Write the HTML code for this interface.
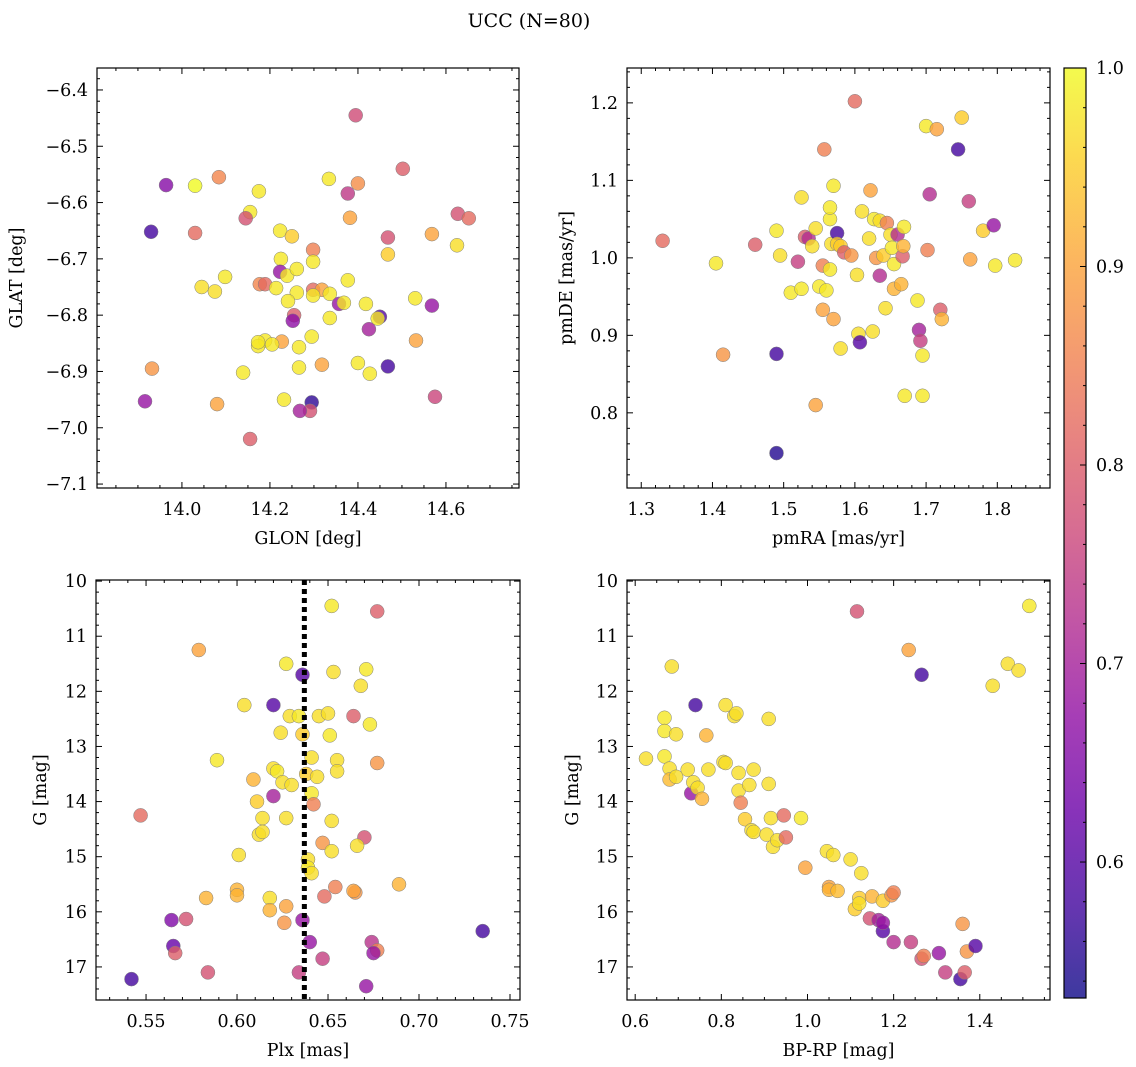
<!DOCTYPE html>
<html><head><meta charset="utf-8"><style>
html,body{margin:0;padding:0;background:#fff;}
svg{display:block;font-family:"DejaVu Serif","Liberation Serif",serif;}
</style></head><body>
<svg id="fig" width="1136" height="1067" viewBox="0 0 1136 1067" xmlns="http://www.w3.org/2000/svg">
<text x="529" y="27" font-size="19" text-anchor="middle">UCC (N=80)</text>
</svg>
<script>
// ---- data ----
const glon = [13.964,13.930,14.030,14.030,14.395,14.502,14.400,14.334,14.377,14.084,14.175,14.155,14.145,14.223,14.250,14.382,14.568,14.627,14.652,14.625,14.468,14.468,14.098,14.225,14.298,14.298,14.223,14.239,14.261,14.075,14.045,14.177,14.189,14.214,14.261,14.298,14.318,14.336,14.298,14.377,14.241,14.357,14.368,14.336,14.418,14.530,14.568,14.450,14.445,14.425,14.255,14.252,14.295,14.189,14.227,14.173,14.205,14.266,14.266,14.318,14.400,14.427,14.468,14.532,13.932,14.139,14.232,14.295,14.291,14.268,13.916,14.080,14.155,14.575,14.173];
const glat = [-6.569,-6.652,-6.570,-6.654,-6.445,-6.540,-6.566,-6.558,-6.584,-6.555,-6.580,-6.617,-6.628,-6.650,-6.660,-6.627,-6.656,-6.620,-6.628,-6.676,-6.662,-6.692,-6.732,-6.700,-6.684,-6.705,-6.723,-6.730,-6.718,-6.758,-6.750,-6.745,-6.745,-6.752,-6.760,-6.755,-6.755,-6.762,-6.765,-6.738,-6.775,-6.780,-6.778,-6.805,-6.780,-6.770,-6.783,-6.803,-6.806,-6.825,-6.800,-6.810,-6.838,-6.845,-6.847,-6.855,-6.852,-6.857,-6.893,-6.888,-6.885,-6.904,-6.891,-6.845,-6.895,-6.902,-6.950,-6.955,-6.970,-6.970,-6.953,-6.958,-7.020,-6.945,-6.848];
const prob1 = [0.66,0.58,1.0,0.82,0.77,0.80,0.87,0.98,0.74,0.86,0.98,0.98,0.78,0.98,0.95,0.90,0.90,0.78,0.82,0.97,0.78,0.95,0.98,0.98,0.85,0.98,0.68,0.98,0.98,0.97,0.97,0.86,0.82,0.98,0.98,0.82,0.90,0.98,0.98,0.98,0.98,0.68,0.98,0.98,0.98,0.98,0.68,0.60,0.98,0.70,0.80,0.67,0.98,0.98,0.90,0.98,0.98,0.98,0.98,0.90,0.98,0.98,0.58,0.90,0.88,0.98,0.98,0.56,0.78,0.70,0.68,0.90,0.80,0.76,0.98];

const pmra = [1.33,1.405,1.415,1.49,1.49,1.46,1.49,1.495,1.51,1.52,1.525,1.525,1.53,1.535,1.54,1.545,1.545,1.55,1.555,1.555,1.56,1.557,1.565,1.565,1.565,1.567,1.57,1.57,1.575,1.575,1.58,1.58,1.585,1.595,1.6,1.603,1.605,1.607,1.61,1.62,1.622,1.625,1.627,1.63,1.635,1.635,1.64,1.643,1.645,1.65,1.652,1.655,1.655,1.66,1.665,1.667,1.668,1.669,1.67,1.688,1.69,1.692,1.695,1.695,1.7,1.702,1.705,1.715,1.72,1.722,1.745,1.75,1.76,1.762,1.78,1.795,1.797,1.825];
const pmde = [1.022,0.993,0.875,0.876,0.748,1.017,1.035,1.003,0.955,0.995,1.078,0.96,1.027,1.025,1.015,1.038,0.81,0.963,0.99,0.933,0.958,1.14,0.985,1.05,1.065,1.018,1.093,0.921,1.032,1.018,0.883,1.015,1.007,1.003,1.202,0.978,0.902,0.891,1.06,1.025,1.087,0.905,1.05,1.0,1.048,0.977,1.003,0.935,1.045,1.03,1.013,0.96,0.992,1.03,0.966,1.002,1.015,1.04,0.822,0.945,0.907,0.893,0.822,0.874,1.17,1.01,1.082,1.166,0.933,0.921,1.14,1.181,1.073,0.998,1.035,1.042,0.99,0.997];
const prob2 = [0.82,0.98,0.88,0.58,0.55,0.8,0.98,0.97,0.98,0.75,0.97,0.98,0.8,0.72,0.97,0.97,0.9,0.98,0.85,0.9,0.98,0.85,0.98,0.98,0.98,0.97,0.98,0.9,0.58,0.95,0.97,0.95,0.8,0.88,0.82,0.97,0.97,0.6,0.97,0.97,0.9,0.97,0.98,0.88,0.97,0.72,0.95,0.97,0.85,0.97,0.98,0.92,0.98,0.72,0.92,0.8,0.92,0.98,0.98,0.98,0.7,0.75,0.98,0.98,0.98,0.85,0.72,0.9,0.8,0.92,0.58,0.95,0.75,0.9,0.95,0.68,0.98,0.98];

const plx = [0.652,0.677,0.579,0.627,0.636,0.653,0.671,0.668,0.62,0.604,0.629,0.634,0.645,0.65,0.664,0.673,0.624,0.636,0.651,0.589,0.62,0.622,0.641,0.655,0.638,0.644,0.655,0.677,0.609,0.625,0.63,0.641,0.611,0.62,0.642,0.627,0.614,0.547,0.612,0.614,0.652,0.647,0.652,0.67,0.666,0.601,0.639,0.639,0.641,0.654,0.689,0.665,0.664,0.648,0.6,0.6,0.583,0.618,0.618,0.627,0.626,0.636,0.564,0.572,0.565,0.566,0.64,0.674,0.677,0.675,0.647,0.634,0.584,0.542,0.671,0.735];
const gmag3 = [10.45,10.55,11.25,11.5,11.7,11.65,11.6,11.9,12.25,12.25,12.45,12.45,12.45,12.4,12.45,12.6,12.75,12.78,12.8,13.25,13.4,13.45,13.2,13.25,13.5,13.55,13.45,13.3,13.6,13.65,13.7,13.85,14.0,13.9,14.05,14.3,14.3,14.25,14.6,14.55,14.35,14.75,14.9,14.65,14.8,14.97,15.05,15.2,15.3,15.55,15.5,15.65,15.62,15.72,15.6,15.7,15.75,15.75,15.97,15.9,16.2,16.15,16.15,16.13,16.62,16.75,16.55,16.55,16.7,16.75,16.85,17.1,17.1,17.22,17.35,16.35];
const prob3 = [0.98,0.8,0.9,0.98,0.6,0.97,0.98,0.97,0.6,0.97,0.97,0.98,0.97,0.97,0.8,0.98,0.97,0.95,0.98,0.98,0.97,0.98,0.97,0.97,0.95,0.97,0.97,0.88,0.92,0.97,0.97,0.98,0.95,0.7,0.85,0.97,0.97,0.82,0.97,0.97,0.97,0.88,0.97,0.78,0.97,0.97,0.97,0.98,0.97,0.85,0.92,0.88,0.9,0.82,0.92,0.92,0.92,0.97,0.92,0.9,0.88,0.68,0.65,0.78,0.62,0.8,0.68,0.73,0.85,0.68,0.75,0.75,0.78,0.58,0.68,0.58];
const plxLine = 0.637;

const bprp = [0.625,0.668,0.668,0.668,0.685,0.68,0.68,0.695,0.695,0.722,0.73,0.735,0.74,0.745,0.755,0.765,0.77,0.805,0.81,0.81,0.83,0.835,0.84,0.84,0.845,0.855,0.865,0.87,0.875,0.875,0.905,0.91,0.91,0.915,0.92,0.93,0.945,0.95,0.985,0.995,1.045,1.05,1.05,1.06,1.07,1.1,1.11,1.115,1.125,1.12,1.12,1.145,1.15,1.165,1.175,1.175,1.175,1.195,1.2,1.2,1.235,1.24,1.265,1.265,1.27,1.305,1.32,1.355,1.36,1.365,1.37,1.39,1.43,1.465,1.49,1.515];
const gmag4 = [13.22,12.48,12.72,13.18,11.55,13.4,13.6,12.78,13.55,13.42,13.85,13.65,12.25,13.75,13.95,12.8,13.42,13.28,12.25,13.3,12.45,12.4,13.48,13.8,14.02,14.32,13.7,14.52,13.42,14.55,14.6,12.5,13.68,14.3,14.82,14.7,14.25,14.65,14.3,15.2,14.9,15.55,15.6,14.97,15.62,15.05,15.95,10.55,15.3,15.75,15.85,16.12,15.72,16.15,16.35,16.2,15.8,15.7,15.65,16.55,11.25,16.55,11.7,16.85,16.8,16.75,17.1,17.22,16.22,17.1,16.72,16.62,11.9,11.5,11.62,10.45];
const prob4 = [0.97,0.98,0.98,0.98,0.97,0.97,0.93,0.97,0.97,0.97,0.68,0.97,0.58,0.97,0.92,0.92,0.97,0.97,0.97,0.97,0.97,0.97,0.97,0.97,0.85,0.95,0.97,0.97,0.97,0.97,0.97,0.97,0.97,0.97,0.97,0.97,0.82,0.82,0.98,0.9,0.97,0.9,0.92,0.97,0.93,0.97,0.95,0.78,0.97,0.95,0.97,0.78,0.92,0.7,0.6,0.68,0.95,0.88,0.85,0.72,0.9,0.75,0.58,0.78,0.85,0.68,0.75,0.58,0.88,0.8,0.88,0.6,0.97,0.97,0.97,0.98];

const cbTicks = [0.6,0.7,0.8,0.9,1.0];

// ---- helpers ----
const NS = "http://www.w3.org/2000/svg";
const svg = document.getElementById('fig');
const VMIN = 0.5315, VMAX = 1.0;
const plasma = [[13,8,135],[65,4,157],[106,0,168],[143,13,164],[177,42,144],[204,71,120],[225,100,98],[242,132,75],[252,166,54],[252,206,37],[240,249,33]];
function cmap(v){
  let t=(v-VMIN)/(VMAX-VMIN); t=Math.max(0,Math.min(1,t))*10;
  const i=Math.min(9,Math.floor(t)), f=t-i, a=plasma[i], b=plasma[i+1];
  return 'rgb('+a.map((c,k)=>Math.round(c+(b[k]-c)*f)).join(',')+')';
}
function mk(tag, attrs, parent){
  const e=document.createElementNS(NS,tag);
  for(const k in attrs) e.setAttribute(k,attrs[k]);
  (parent||svg).appendChild(e); return e;
}
function fmt(v,d){ return (v<0?'\u2212':'')+Math.abs(v).toFixed(d); }

function panel(o){
  const g=mk('g',{});
  
  
  const X=v=>o.x0+(v-o.xmin)/(o.xmax-o.xmin)*(o.x1-o.x0);
  const Y=o.yinv ? v=>o.y0+(v-o.ymin)/(o.ymax-o.ymin)*(o.y1-o.y0)
                 : v=>o.y1-(v-o.ymin)/(o.ymax-o.ymin)*(o.y1-o.y0);
  for(let i=0;i<o.xs.length;i++){
    const c=mk('circle',{cx:X(o.xs[i]).toFixed(1),cy:Y(o.ys[i]).toFixed(1),r:7,fill:cmap(o.cs[i]),'fill-opacity':0.8,stroke:'#808080','stroke-width':0.5},g);
    
    
  }
  if(o.vline!==undefined){
    const l=mk('line',{x1:X(o.vline),x2:X(o.vline),y1:o.y0,y2:o.y1,stroke:'#000','stroke-width':5,'stroke-dasharray':'5 4'},g);
    
    
  }
  const fr=mk('rect',{x:o.x0,y:o.y0,width:o.x1-o.x0,height:o.y1-o.y0,fill:'none',stroke:'#000','stroke-width':1.2},g);
  
  
  const eps=1e-9;
  for(let v=Math.ceil(o.xmin/o.xminor-eps)*o.xminor; v<=o.xmax+eps; v+=o.xminor){
    const px=X(v); const major=Math.abs(v/o.xmajor-Math.round(v/o.xmajor))<1e-6; const L=major?6:3;
    mk('line',{x1:px,x2:px,y1:o.y1,y2:o.y1-L,stroke:'#000','stroke-width':1},g);
    mk('line',{x1:px,x2:px,y1:o.y0,y2:o.y0+L,stroke:'#000','stroke-width':1},g);
    if(major){
      const t=mk('text',{x:px,y:o.y1+27,'font-size':17.5,'text-anchor':'middle'},g);
      
      
      t.textContent=fmt(Math.round(v/o.xmajor)*o.xmajor,o.xd);
    }
  }
  for(let v=Math.ceil(o.ymin/o.yminor-eps)*o.yminor; v<=o.ymax+eps; v+=o.yminor){
    const py=Y(v); const major=Math.abs(v/o.ymajor-Math.round(v/o.ymajor))<1e-6; const L=major?6:3;
    mk('line',{x1:o.x0,x2:o.x0+L,y1:py,y2:py,stroke:'#000','stroke-width':1},g);
    mk('line',{x1:o.x1,x2:o.x1-L,y1:py,y2:py,stroke:'#000','stroke-width':1},g);
    if(major){
      const t=mk('text',{x:o.x0-9,y:py+6,'font-size':17.5,'text-anchor':'end'},g);
      
      
      t.textContent=fmt(Math.round(v/o.ymajor)*o.ymajor,o.yd);
    }
  }
  const xl=mk('text',{x:(o.x0+o.x1)/2,y:o.y1+56,'font-size':17.5,'text-anchor':'middle'},g);
  
  
  xl.textContent=o.xlabel;
  const yx=o.ylx, yy=(o.y0+o.y1)/2;
  const yl=mk('text',{x:yx,y:yy,'font-size':17.5,'text-anchor':'middle',transform:'rotate(-90 '+yx+' '+yy+')'},g);
  
  
  yl.textContent=o.ylabel;
}

panel({name:'glon-glat-panel',x0:97,x1:519,y0:68,y1:488,xmin:13.807,xmax:14.766,ymin:-7.107,ymax:-6.361,
  xs:glon,ys:glat,cs:prob1,xmajor:0.2,xminor:0.05,ymajor:0.1,yminor:0.02,xd:1,yd:1,xlabel:'GLON [deg]',ylabel:'GLAT [deg]',ylx:22});
panel({name:'proper-motion-panel',x0:627,x1:1050,y0:68,y1:488,xmin:1.280,xmax:1.874,ymin:0.703,ymax:1.245,
  xs:pmra,ys:pmde,cs:prob2,xmajor:0.1,xminor:0.02,ymajor:0.1,yminor:0.02,xd:1,yd:1,xlabel:'pmRA [mas/yr]',ylabel:'pmDE [mas/yr]',ylx:572});
panel({name:'plx-g-panel',x0:96,x1:520,y0:580,y1:1000,xmin:0.5225,xmax:0.7555,ymin:9.98,ymax:17.6,yinv:true,
  xs:plx,ys:gmag3,cs:prob3,vline:plxLine,xmajor:0.05,xminor:0.01,ymajor:1,yminor:0.2,xd:2,yd:0,xlabel:'Plx [mas]',ylabel:'G [mag]',ylx:46});
panel({name:'cmd-panel',x0:627,x1:1050,y0:580,y1:1000,xmin:0.581,xmax:1.563,ymin:9.98,ymax:17.6,yinv:true,
  xs:bprp,ys:gmag4,cs:prob4,xmajor:0.2,xminor:0.05,ymajor:1,yminor:0.2,xd:1,yd:0,xlabel:'BP-RP [mag]',ylabel:'G [mag]',ylx:578});

(function(){
  const g=mk('g',{});
  
  
  const defs=mk('defs',{},g);
  const lg=mk('linearGradient',{id:'cbg',x1:0,y1:1,x2:0,y2:0},defs);
  for(let i=0;i<=20;i++){ mk('stop',{offset:(i/20),'stop-color':cmap(VMIN+(VMAX-VMIN)*i/20),'stop-opacity':0.8},lg); }
  const x0=1064,x1=1086,y0=68,y1=998;
  const Y=v=>y1-(v-VMIN)/(VMAX-VMIN)*(y1-y0);
  mk('rect',{x:x0,y:y0,width:x1-x0,height:y1-y0,fill:'url(#cbg)',stroke:'#000','stroke-width':1.2},g);
  for(let v=0.54; v<=1.0001; v+=0.02){
    const py=Y(v); const major=Math.abs(v*10-Math.round(v*10))<1e-6;
    mk('line',{x1:x1,x2:x1-(major?6:3),y1:py,y2:py,stroke:'#000','stroke-width':1},g);
  }
  cbTicks.forEach(v=>{
    const t=mk('text',{x:x1+10,y:Y(v)+6,'font-size':17.5},g);
    
    
    t.textContent=v.toFixed(1);
  });
})();
</script>
</body></html>
